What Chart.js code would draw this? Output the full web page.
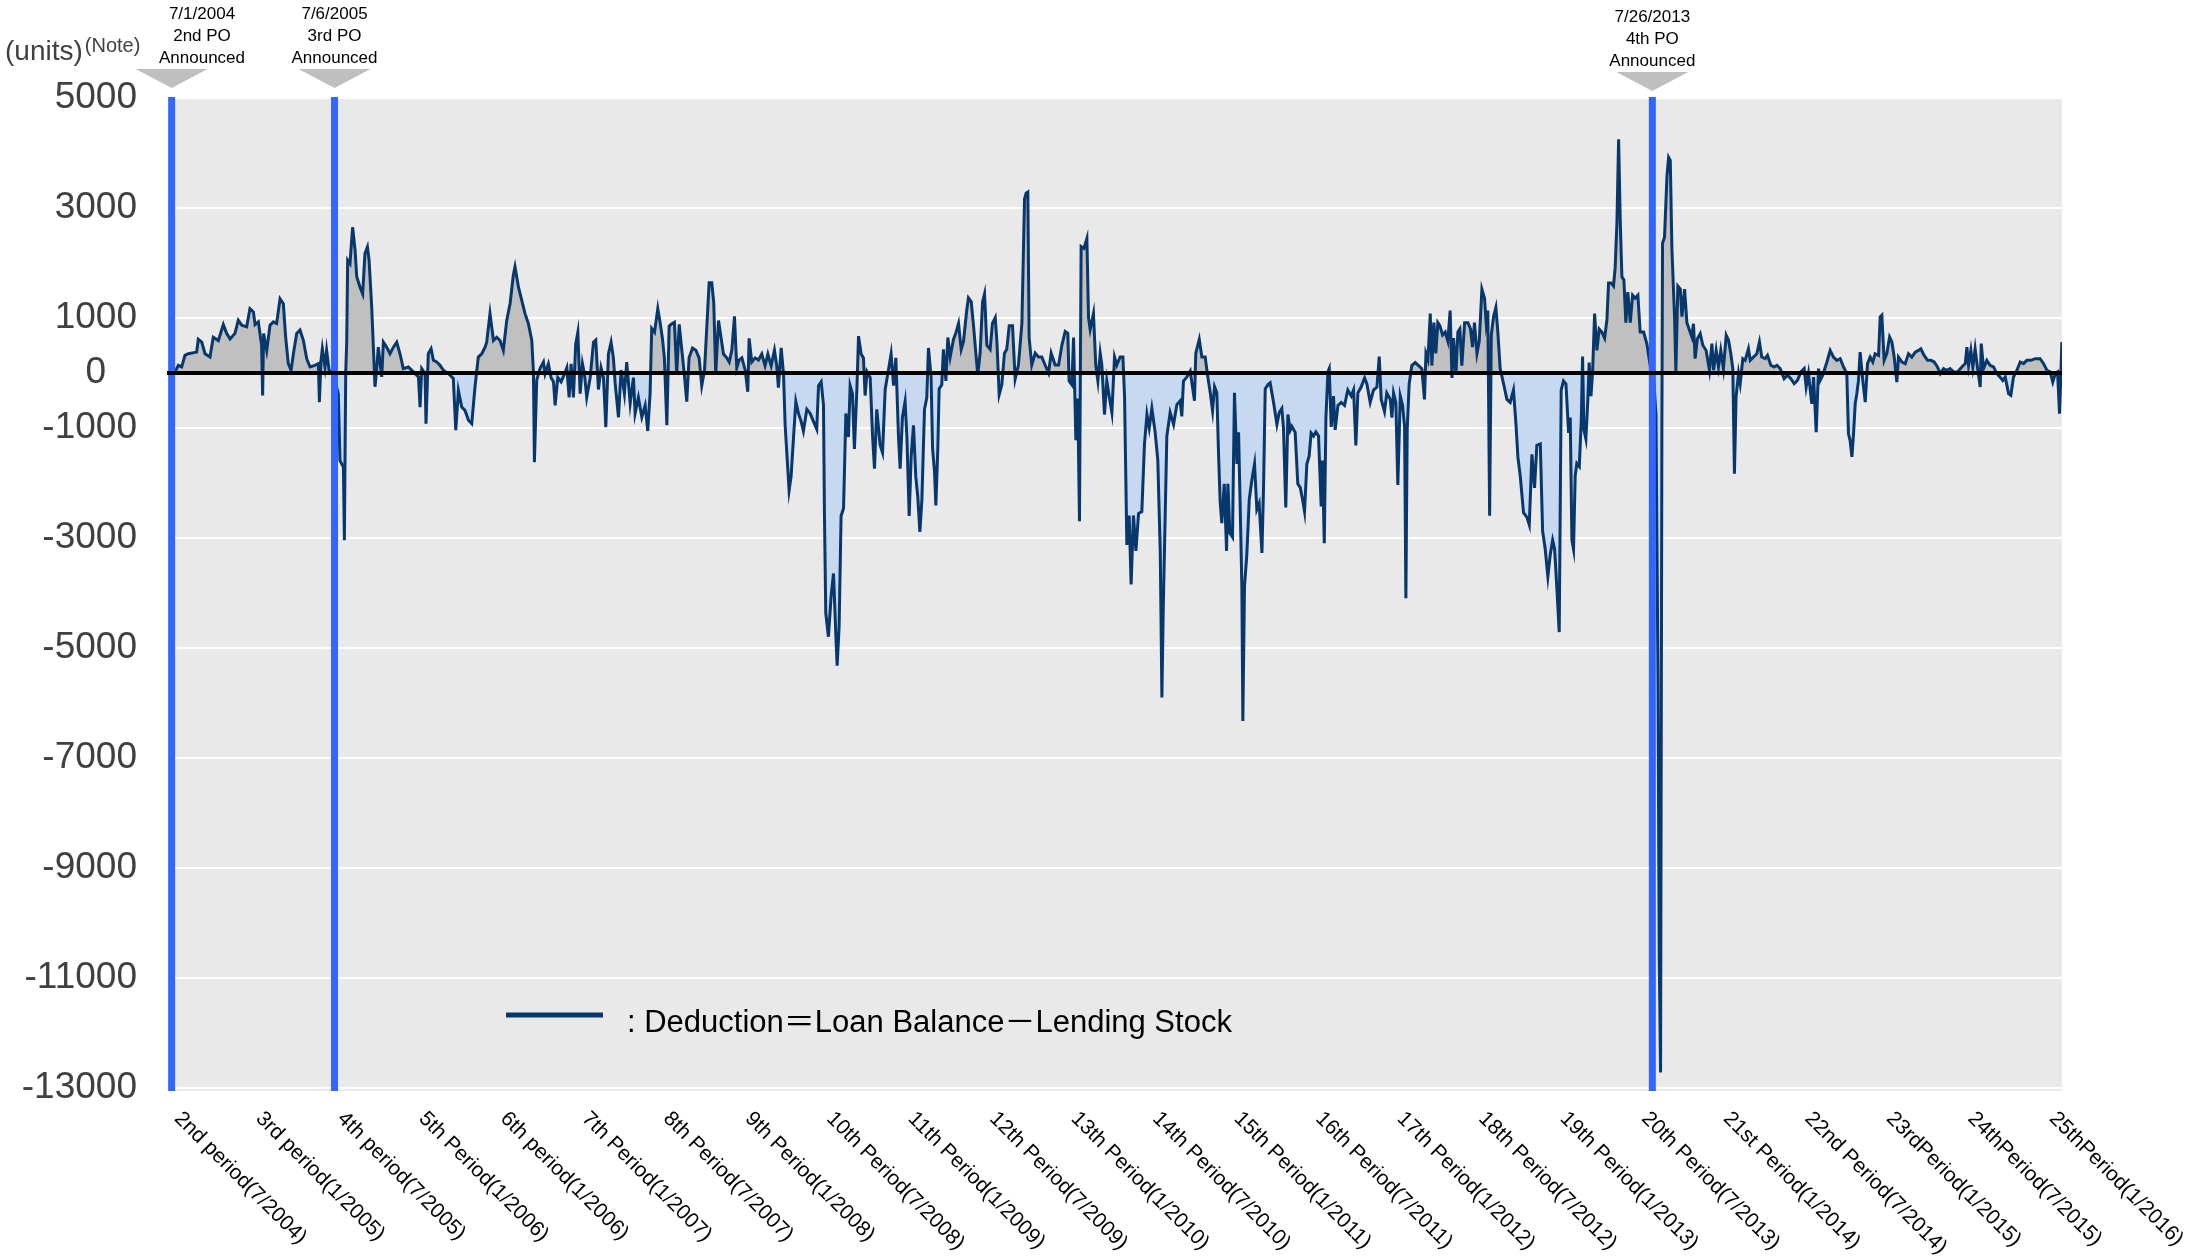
<!DOCTYPE html>
<html>
<head>
<meta charset="utf-8">
<script src="https://cdn.jsdelivr.net/npm/chart.js@4.4.1/dist/chart.umd.min.js"></script>
<style>
  html, body { margin: 0; padding: 0; background: #fff; }
  canvas { display: block; }
</style>
</head>
<body>
<canvas id="chart" width="2202" height="1258"></canvas>
<script>
// ── Data (x = decimal year, y = units) ─────────────────────────────

const periodLabels = [
  "2nd period(7/2004)", "3rd period(1/2005)", "4th period(7/2005)", "5th Period(1/2006)",
  "6th period(1/2006)", "7th Period(1/2007)", "8th Period(7/2007)", "9th Period(1/2008)",
  "10th Period(7/2008)", "11th Period(1/2009)", "12th Period(7/2009)", "13th Period(1/2010)",
  "14th Period(7/2010)", "15th Period(1/2011)", "16th Period(7/2011)", "17th Period(1/2012)",
  "18th Period(7/2012)", "19th Period(1/2013)", "20th Period(7/2013)", "21st Period(1/2014)",
  "22nd Period(7/2014)", "23rdPeriod(1/2015)", "24thPeriod(7/2015)", "25thPeriod(1/2016)",
];

const yTicks = [-13000, -11000, -9000, -7000, -5000, -3000, -1000, 0, 1000, 3000, 5000];

const eventDates = [2004.51, 2005.5, 2013.51];
const eventLabels = [
  ["7/1/2004", "2nd PO", "Announced"],
  ["7/6/2005", "3rd PO", "Announced"],
  ["7/26/2013", "4th PO", "Announced"],
];

const deduction2004 = [
  [2004.51,0],[2004.530,20],[2004.551,140],[2004.571,110],[2004.591,320],[2004.611,350],[2004.662,380],
  [2004.672,610],[2004.693,560],[2004.713,350],[2004.743,290],[2004.763,650],[2004.794,590],[2004.824,880],
  [2004.844,720],[2004.865,620],[2004.895,720],[2004.915,960],[2004.936,870],[2004.966,840],[2004.986,1170],
  [2005.007,1110],[2005.017,880],[2005.037,930],[2005.057,500],[2005.063,-410],[2005.069,720],[2005.088,410],
  [2005.108,870],[2005.128,930],[2005.148,900],[2005.169,1350],[2005.189,1260],[2005.203,650],[2005.219,170],
  [2005.236,50],[2005.250,350],[2005.270,720],[2005.290,780],[2005.311,590],[2005.331,260],[2005.351,110],
  [2005.381,140],[2005.402,170],[2005.408,-530],[2005.418,230],[2005.426,440],[2005.442,110],[2005.452,410],
  [2005.467,50],[2005.483,20],[2005.503,-130],[2005.523,-380],[2005.533,-1590],[2005.554,-1710],[2005.560,-3040],
  [2005.568,-10],[2005.574,560],[2005.580,2050],[2005.594,1990],[2005.610,2650],[2005.625,2230],[2005.635,1750],
  [2005.655,1560],[2005.671,1440],[2005.685,2170],[2005.700,2290],[2005.710,2050],[2005.726,1200],[2005.746,-250],
  [2005.756,50],[2005.766,470],[2005.787,-70],[2005.797,560],[2005.817,470],[2005.837,350],[2005.858,470],
  [2005.878,560],[2005.898,350],[2005.918,80],[2005.949,110],[2005.979,20],[2006.010,-70],[2006.020,-620],
  [2006.030,80],[2006.050,-10],[2006.056,-920],[2006.070,350],[2006.087,440],[2006.101,230],[2006.121,200],
  [2006.141,140],[2006.162,50],[2006.192,-10],[2006.222,-100],[2006.237,-1040],[2006.253,-320],[2006.273,-620],
  [2006.293,-680],[2006.314,-860],[2006.334,-920],[2006.354,-250],[2006.374,290],[2006.395,350],[2006.415,470],
  [2006.425,560],[2006.445,1080],[2006.466,590],[2006.486,650],[2006.506,590],[2006.526,410],[2006.547,960],
  [2006.567,1260],[2006.587,1780],[2006.597,1930],[2006.618,1560],[2006.638,1320],[2006.658,1080],[2006.678,900],
  [2006.699,590],[2006.709,20],[2006.715,-1620],[2006.729,-130],[2006.749,80],[2006.770,200],
];

const deduction2007 = [
  [2006.780,-15],[2006.800,165],[2006.816,-85],[2006.831,-160],[2006.841,-590],[2006.857,-85],[2006.877,-160],
  [2006.898,-15],[2006.912,95],[2006.926,-445],[2006.938,165],[2006.952,-445],[2006.966,525],[2006.979,740],
  [2006.993,-375],[2007.007,165],[2007.019,-15],[2007.033,-445],[2007.054,-85],[2007.074,560],[2007.088,600],
  [2007.104,-300],[2007.120,95],[2007.135,-85],[2007.149,-985],[2007.165,345],[2007.181,560],[2007.195,275],
  [2007.206,-195],[2007.226,-805],[2007.242,55],[2007.262,-375],[2007.276,200],[2007.297,-555],[2007.317,-85],
  [2007.327,-735],[2007.347,-445],[2007.368,-805],[2007.388,-590],[2007.404,-1055],[2007.418,-375],[2007.428,810],
  [2007.445,740],[2007.465,1170],[2007.479,920],[2007.493,630],[2007.505,275],[2007.520,-950],[2007.534,850],
  [2007.546,885],[2007.566,920],[2007.580,-15],[2007.595,885],[2007.611,415],[2007.627,-50],[2007.641,-520],
  [2007.655,275],[2007.676,455],[2007.696,415],[2007.716,275],[2007.732,-230],[2007.749,55],[2007.763,850],
  [2007.777,1640],[2007.793,1640],[2007.805,1280],[2007.817,-15],[2007.834,955],[2007.850,630],[2007.864,345],
  [2007.884,275],[2007.899,200],[2007.915,415],[2007.931,1030],[2007.945,95],[2007.959,235],[2007.976,275],
  [2007.996,55],[2008.012,-340],[2008.020,630],[2008.036,200],[2008.057,275],[2008.077,235],[2008.097,345],
  [2008.117,130],[2008.134,345],[2008.154,130],[2008.174,415],[2008.188,130],[2008.198,-265],[2008.215,455],
  [2008.229,-15],[2008.239,-950],[2008.255,-1740],[2008.263,-2135],[2008.275,-1885],[2008.290,-1165],[2008.304,-520],
  [2008.320,-735],[2008.336,-880],[2008.350,-1055],[2008.371,-660],[2008.391,-735],[2008.411,-880],[2008.431,-1020],
  [2008.442,-230],[2008.458,-160],[2008.472,-590],[2008.478,-2600],[2008.486,-4365],[2008.502,-4795],[2008.519,-4040],
  [2008.533,-3645],[2008.547,-4760],[2008.555,-5320],[2008.567,-4615],[2008.579,-2600],[2008.594,-2460],[2008.608,-735],
  [2008.624,-1165],[2008.634,-230],[2008.648,-375],[2008.660,-1380],[2008.675,-300],[2008.685,670],[2008.701,345],
  [2008.715,275],[2008.725,-410],[2008.737,20],[2008.756,-85],[2008.770,-1130],[2008.782,-1740],[2008.796,-660],
  [2008.816,-1310],[2008.831,-1450],[2008.847,-300],[2008.867,55],[2008.883,345],[2008.898,-230],[2008.912,275],
  [2008.928,-1165],[2008.938,-1740],[2008.952,-805],[2008.968,-520],[2008.979,-1165],[2008.993,-2600],[2009.005,-1525],
  [2009.019,-950],[2009.033,-1885],[2009.045,-2245],[2009.058,-2890],[2009.070,-2315],[2009.086,-660],[2009.100,-445],
  [2009.110,455],
];

const deduction2009 = [
  [2009.126,-70],[2009.135,-1365],[2009.147,-1800],[2009.155,-2410],[2009.167,-1365],[2009.175,-290],[2009.191,-215],
  [2009.201,430],[2009.216,-145],[2009.228,645],[2009.242,290],[2009.262,610],[2009.276,720],[2009.293,900],
  [2009.309,430],[2009.323,575],[2009.343,1150],[2009.353,1365],[2009.370,1295],[2009.384,860],[2009.398,360],
  [2009.410,-35],[2009.424,360],[2009.439,1295],[2009.451,1440],[2009.465,505],[2009.485,430],[2009.499,900],
  [2009.516,1005],[2009.526,575],[2009.540,-395],[2009.556,-215],[2009.572,360],[2009.586,430],[2009.601,860],
  [2009.621,860],[2009.637,-110],[2009.657,145],[2009.678,900],[2009.694,3165],[2009.704,3270],[2009.714,3290],
  [2009.722,645],[2009.738,145],[2009.759,360],[2009.779,290],[2009.799,290],[2009.819,145],[2009.840,0],
  [2009.856,360],[2009.880,145],[2009.901,145],[2009.921,505],[2009.941,755],[2009.957,720],[2009.965,-145],
  [2009.982,-215],[2009.992,645],[2010.006,-1220],[2010.018,-465],[2010.028,-2695],[2010.038,2300],[2010.055,2265],
  [2010.073,2445],[2010.083,1005],[2010.093,790],[2010.113,1080],[2010.127,145],[2010.140,-145],[2010.154,360],
  [2010.164,145],[2010.180,-755],[2010.194,-145],[2010.209,-430],[2010.225,-720],[2010.241,290],[2010.255,145],
  [2010.275,290],[2010.292,290],[2010.302,-430],[2010.316,-3125],[2010.330,-2590],[2010.342,-3845],[2010.356,-2590],
  [2010.371,-3235],[2010.387,-2555],[2010.407,-2520],[2010.423,-1295],[2010.438,-755],[2010.452,-1005],[2010.468,-645],
  [2010.488,-1080],[2010.504,-1580],[2010.519,-3235],[2010.529,-5900],[2010.537,-4315],[2010.549,-2590],[2010.559,-1150],
  [2010.579,-720],[2010.600,-935],[2010.620,-575],[2010.640,-505],[2010.650,-790],[2010.660,-145],[2010.681,-70],
  [2010.701,35],[2010.727,-505],[2010.735,360],[2010.756,610],[2010.772,290],[2010.792,290],[2010.808,-70],
  [2010.823,-360],[2010.837,-685],[2010.849,-250],[2010.863,-360],[2010.873,-1440],[2010.883,-2335],[2010.893,-2730],
  [2010.908,-2015],[2010.922,-3235],[2010.930,-2015],[2010.942,-2910],[2010.958,-2985],[2010.970,-360],[2010.985,-1655],
  [2010.995,-1080],[2011.005,-2445],[2011.015,-3880],[2011.021,-6325],[2011.031,-3880],[2011.045,-3310],[2011.060,-2300],
  [2011.076,-1940],[2011.092,-1655],[2011.106,-2480],[2011.120,-2370],[2011.137,-3270],[2011.147,-2050],[2011.157,-290],
  [2011.173,-215],[2011.187,-180],[2011.208,-540],[2011.228,-935],[2011.242,-720],[2011.258,-645],[2011.268,-1005],
  [2011.282,-2445],[2011.295,-755],[2011.309,-1040],[2011.319,-970],[2011.339,-1080],[2011.355,-2015],[2011.370,-2085],
  [2011.384,-2300],[2011.396,-2520],[2011.410,-1655],
];

const deduction2011 = [
  [2011.424,-1510],[2011.436,-1090],[2011.451,-1145],[2011.465,-1070],[2011.481,-1145],[2011.497,-2425],[2011.505,-1590],
  [2011.516,-3095],[2011.526,-810],[2011.538,20],[2011.546,80],[2011.558,-980],[2011.572,-420],[2011.582,-1035],
  [2011.599,-590],[2011.619,-535],[2011.639,-590],[2011.659,-310],[2011.680,-420],[2011.694,-310],[2011.708,-1315],
  [2011.720,-365],[2011.740,-255],[2011.761,-90],[2011.775,-200],[2011.795,-535],[2011.815,-310],[2011.836,-255],
  [2011.850,300],[2011.862,-480],[2011.882,-700],[2011.896,-365],[2011.917,-480],[2011.927,-810],[2011.937,-365],
  [2011.951,-535],[2011.963,-2035],[2011.978,-420],[2011.992,-590],[2012.004,-980],[2012.012,-4095],[2012.020,-1035],
  [2012.032,-200],[2012.048,135],[2012.069,190],[2012.089,135],[2012.109,80],[2012.125,-480],[2012.134,355],
  [2012.146,245],[2012.160,1080],[2012.170,135],[2012.182,915],[2012.194,355],[2012.206,915],[2012.219,855],
  [2012.235,690],[2012.251,745],[2012.267,580],[2012.281,1135],[2012.292,-90],[2012.302,635],[2012.316,-35],
  [2012.328,745],[2012.340,800],[2012.352,135],[2012.369,915],[2012.389,915],[2012.405,800],[2012.417,470],
  [2012.429,915],[2012.444,355],[2012.458,580],[2012.474,1525],[2012.490,1360],[2012.500,915],[2012.510,1135],
  [2012.521,-2595],[2012.531,690],[2012.545,1025],[2012.559,1190],[2012.571,745],[2012.585,80],[2012.606,-200],
  [2012.626,-480],[2012.646,-535],[2012.666,-310],[2012.681,-925],[2012.693,-1535],[2012.707,-1870],[2012.727,-2540],
  [2012.748,-2625],[2012.762,-2760],[2012.778,-1480],[2012.794,-2090],[2012.808,-1315],[2012.829,-1290],[2012.843,-2870],
  [2012.859,-3205],[2012.875,-3705],[2012.889,-3315],[2012.904,-3040],[2012.916,-3205],[2012.930,-3930],[2012.944,-4710],
  [2012.956,-310],[2012.970,-145],[2012.985,-200],[2013.001,-1090],[2013.011,-810],[2013.021,-3040],[2013.031,-3205],
  [2013.041,-1870],[2013.051,-1645],[2013.066,-1700],[2013.078,-870],[2013.086,300],[2013.094,-1035],[2013.106,-1200],
  [2013.118,-480],[2013.126,190],[2013.137,-420],[2013.147,20],[2013.159,1080],[2013.173,410],[2013.187,800],
  [2013.203,745],[2013.220,635],[2013.234,970],[2013.244,1635],[2013.260,1635],[2013.274,1580],[2013.284,1915],
  [2013.295,2750],[2013.305,4250],[2013.315,2750],[2013.325,1750],[2013.337,1690],[2013.349,915],[2013.361,1470],
  [2013.376,915],[2013.390,1415],[2013.406,1360],[2013.422,1415],[2013.436,745],[2013.457,745],[2013.477,525],
  [2013.497,135],[2013.518,-90],[2013.532,-755],[2013.544,-5430],[2013.552,-10660],[2013.560,-12720],[2013.568,-980],
  [2013.572,2360],[2013.584,2470],[2013.599,3585],[2013.609,3920],[2013.619,3865],[2013.629,2250],[2013.645,1025],
  [2013.653,20],[2013.665,1580],[2013.680,1525],[2013.690,1025],[2013.706,1525],[2013.720,915],
];

const deduction2013 = [
  [2013.750,655],[2013.760,895],[2013.770,260],[2013.784,625],[2013.801,715],[2013.817,505],[2013.837,410],
  [2013.857,50],[2013.872,535],[2013.882,50],[2013.898,410],[2013.912,110],[2013.926,410],[2013.942,80],
  [2013.959,685],[2013.973,595],[2013.987,350],[2013.999,80],[2014.009,-1830],[2014.019,-435],[2014.034,-10],
  [2014.044,-195],[2014.060,260],[2014.074,230],[2014.094,440],[2014.105,230],[2014.125,290],[2014.145,350],
  [2014.161,565],[2014.175,290],[2014.196,260],[2014.210,320],[2014.230,140],[2014.250,110],[2014.267,140],
  [2014.287,80],[2014.311,-105],[2014.331,-40],[2014.352,-105],[2014.372,-195],[2014.392,-135],[2014.413,20],
  [2014.433,80],[2014.445,-255],[2014.459,-10],[2014.479,-560],[2014.490,-75],[2014.506,-1075],[2014.520,80],
  [2014.530,-135],[2014.546,-40],[2014.571,200],[2014.591,410],[2014.611,290],[2014.631,230],[2014.652,260],
  [2014.672,110],[2014.692,-10],[2014.702,-1105],[2014.712,-1225],[2014.723,-1525],[2014.733,-1105],[2014.743,-560],
  [2014.753,-375],[2014.763,-135],[2014.773,380],[2014.789,-135],[2014.804,-530],[2014.818,170],[2014.834,290],
  [2014.850,200],[2014.864,350],[2014.885,320],[2014.895,1020],[2014.905,1050],[2014.919,230],[2014.935,350],
  [2014.952,655],[2014.966,565],[2014.980,290],[2014.996,-165],[2015.006,290],[2015.027,200],[2015.047,170],
  [2015.067,350],[2015.087,290],[2015.108,380],[2015.128,410],[2015.142,440],[2015.162,320],[2015.183,230],
  [2015.203,230],[2015.223,200],[2015.243,110],[2015.260,-10],[2015.280,80],[2015.300,50],[2015.320,80],
  [2015.341,20],[2015.365,20],[2015.391,110],[2015.412,170],[2015.422,470],[2015.432,140],[2015.446,410],
  [2015.458,110],[2015.472,440],[2015.487,80],[2015.503,-255],[2015.509,535],[2015.523,80],[2015.543,230],
  [2015.563,140],[2015.584,110],[2015.604,-10],[2015.624,-75],[2015.640,-135],[2015.655,-75],[2015.675,-375],
  [2015.689,-405],[2015.705,-75],[2015.726,50],[2015.746,200],[2015.766,170],[2015.786,230],[2015.811,230],
  [2015.837,260],[2015.867,260],[2015.888,170],[2015.908,50],[2015.928,20],[2015.944,-165],[2015.959,-10],
  [2015.973,20],[2015.985,-740],[2015.993,-40],[2015.999,565],
];

const deduction = [
  ...deduction2004, ...deduction2007, ...deduction2009, ...deduction2011, ...deduction2013,
].map(([x, y]) => ({ x, y }));

// ── Styling ────────────────────────────────────────────────────────

const LINE_COLOR = "#08376b";
const PLOT_BG = "#e9e9e9";
const EVENT_BLUE = "#3366ff";
const SANS = '"Liberation Sans", Arial, sans-serif';

// ── Custom drawing ─────────────────────────────────────────────────

const plotBackground = {
  id: "plotBackground",
  beforeDraw(chart) {
    const { ctx, chartArea: a } = chart;
    ctx.save();
    ctx.fillStyle = PLOT_BG;
    ctx.fillRect(a.left, a.top - 1, a.right - a.left, a.bottom - a.top + 4);
    ctx.restore();
  },
};

const overlays = {
  id: "overlays",
  afterDatasetsDraw(chart) {
    const { ctx, chartArea: a, scales } = chart;
    ctx.save();

    // PO announcement markers
    eventDates.forEach((d, i) => {
      const x = scales.x.getPixelForValue(d);
      ctx.strokeStyle = EVENT_BLUE;
      ctx.lineWidth = 7;
      ctx.beginPath();
      ctx.moveTo(x, a.top - 1);
      ctx.lineTo(x, a.bottom + 3);
      ctx.stroke();

      const tip = a.top - 10 + (i === 2 ? 3 : 0);
      ctx.fillStyle = "#bfbfbf";
      ctx.beginPath();
      ctx.moveTo(x - 36, tip - 19);
      ctx.lineTo(x + 36, tip - 19);
      ctx.lineTo(x, tip);
      ctx.closePath();
      ctx.fill();

      const tx = Math.max(x, a.left + 32);
      ctx.fillStyle = "#000";
      ctx.font = "17px " + SANS;
      ctx.textAlign = "center";
      ctx.textBaseline = "middle";
      const lines = eventLabels[i];
      lines.forEach((t, j) => {
        ctx.fillText(t, tx, tip - 30 - (lines.length - 1 - j) * 22);
      });
    });

    // zero line
    const y0 = scales.y.getPixelForValue(0);
    ctx.strokeStyle = "#000";
    ctx.lineWidth = 4;
    ctx.beginPath();
    ctx.moveTo(a.left - 3, y0);
    ctx.lineTo(a.right, y0);
    ctx.stroke();

    // legend inside the plot
    ctx.strokeStyle = LINE_COLOR;
    ctx.lineWidth = 5;
    ctx.beginPath();
    ctx.moveTo(a.left + 336, a.bottom - 73);
    ctx.lineTo(a.left + 433, a.bottom - 73);
    ctx.stroke();
    ctx.fillStyle = "#000";
    ctx.font = '31px "Liberation Sans", "Noto Sans CJK JP", sans-serif';
    ctx.textAlign = "left";
    ctx.textBaseline = "alphabetic";
    ctx.fillText(": Deduction＝Loan Balance－Lending Stock", a.left + 457, a.bottom - 56);

    ctx.restore();
  },
  afterDraw(chart) {
    const { ctx, chartArea: a, scales } = chart;
    ctx.save();

    // units caption
    ctx.fillStyle = "#404040";
    ctx.textAlign = "left";
    ctx.textBaseline = "alphabetic";
    ctx.font = "28px " + SANS;
    ctx.fillText("(units)", 5, 60);
    const w = ctx.measureText("(units)").width;
    ctx.font = "20px " + SANS;
    ctx.fillText("(Note)", 5 + w + 2, 52);

    // rotated period labels
    ctx.fillStyle = "#000";
    ctx.font = "21px " + SANS;
    ctx.textBaseline = "top";
    const n = periodLabels.length;
    periodLabels.forEach((label, i) => {
      const x = scales.x.getPixelForValue(2004.5 + i * 0.5) + 15 - (17 * i) / (n - 1);
      ctx.save();
      ctx.translate(x, a.bottom + 20);
      ctx.rotate(Math.PI / 4);
      ctx.fillText(label, 0, 0);
      ctx.restore();
    });

    ctx.restore();
  },
};

// ── Chart ──────────────────────────────────────────────────────────

new Chart(document.getElementById("chart"), {
  type: "line",
  data: {
    datasets: [{
      data: deduction,
      borderColor: LINE_COLOR,
      borderWidth: 3,
      pointRadius: 0,
      tension: 0,
      fill: { target: "origin", above: "#c0c0c0", below: "#c6d9f1" },
    }],
  },
  options: {
    responsive: false,
    animation: false,
    devicePixelRatio: 1,
    layout: { padding: { top: 98, right: 140, left: 0, bottom: 0 } },
    plugins: {
      legend: { display: false },
      tooltip: { enabled: false },
    },
    scales: {
      x: {
        type: "linear",
        min: 2004.5,
        max: 2016,
        grid: { display: false },
        border: { display: false },
        ticks: { display: false },
        afterFit: (scale) => { scale.height = 170; },
      },
      y: {
        min: -13000,
        max: 5000,
        afterBuildTicks: (scale) => { scale.ticks = yTicks.map((v) => ({ value: v })); },
        afterFit: (scale) => { scale.width = 170; },
        border: { display: false },
        grid: {
          drawTicks: false,
          color: (c) => (c.tick && c.tick.value === 0 ? "rgba(0,0,0,0)" : "#ffffff"),
          lineWidth: 2,
        },
        ticks: {
          padding: 33,
          color: "#404040",
          font: { family: SANS, size: 37 },
          callback: (v) => (v === 0 ? "0   " : String(v)),
        },
      },
    },
  },
  plugins: [plotBackground, overlays],
});
</script>
</body>
</html>
